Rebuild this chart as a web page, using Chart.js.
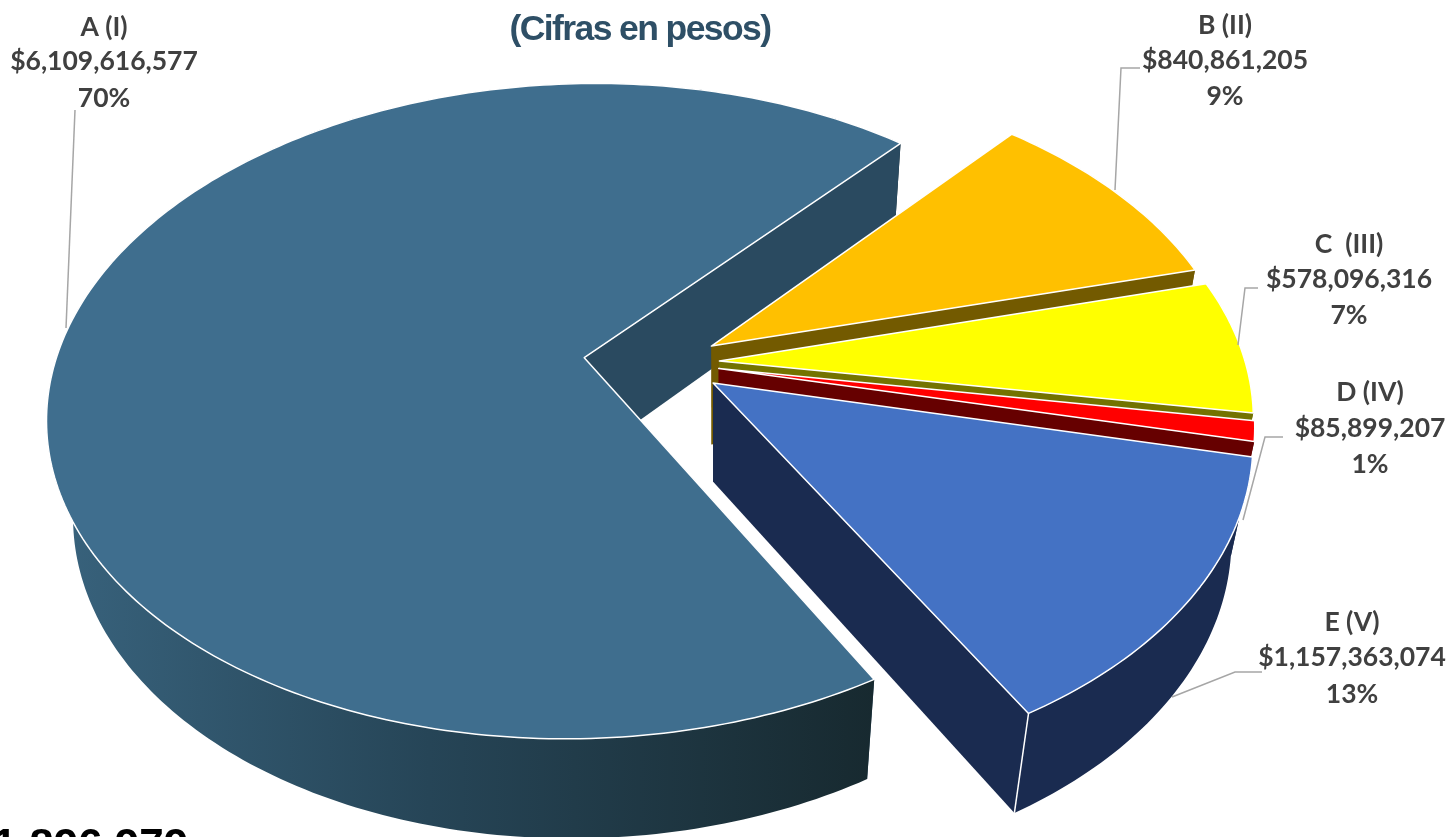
<!DOCTYPE html>
<html>
<head>
<meta charset="utf-8">
<title>Pie 3D</title>
<script src="https://cdn.jsdelivr.net/npm/chart.js@4/dist/chart.umd.min.js"></script>
<style>
  html, body { margin: 0; padding: 0; background: #fff; overflow: hidden; }
  #wrap { width: 1449px; height: 837px; position: relative; }
</style>
</head>
<body>
<div id="wrap"><canvas id="grafico" width="1449" height="837"></canvas></div>
<script>
const categorias = ['A (I)', 'B (II)', 'C  (III)', 'D (IV)', 'E (V)'];
const valores = [6109616577, 840861205, 578096316, 85899207, 1157363074];
const porcentajes = ['70%', '9%', '7%', '1%', '13%'];
const colores = ['#3f6e8e', '#ffc000', '#ffff00', '#ff0000', '#4472c4'];
const coloresLado = ['#2a4a60', '#735a00', '#737300', '#660000', '#1a2b50'];
const separacion = [61.6, 38, 38, 38, 41];
const titulo = '(Cifras en pesos)';
const totalTexto = '$1,896,979';

// where each label sits and the elbow of its leader line
const etiquetas = [
  { x: 104, y: [27, 61, 98], linea: [[75, 110], [66, 328]] },
  { x: 1225, y: [25, 60, 96], linea: [[1140, 68], [1121, 68], [1115, 190]] },
  { x: 1349, y: [244, 279, 315], linea: [[1258, 288], [1245, 288], [1238, 345]] },
  { x: 1370, y: [392, 428, 464], linea: [[1283, 437], [1265, 437], [1243, 520]] },
  { x: 1352, y: [622, 657, 694], linea: [[1262, 672], [1235, 672], [1172, 697]] }
];

// camera of the tilted disc: u,v on the disc (radius 1), z = 0 top face, 1 bottom face
const cam = { cx: 585, cy: 357, r: 526.5, rk: 318.7, p: 0.163, q: 0.04, h: 102.6, hx: 5.2, s: 0.004, sh: -0.03, t: -0.006 };
const centro = { u: 0.157, v: 0.019 };

function proyectar(u, v, z) {
  const w = 1 - cam.p * v + cam.s * u + cam.q * z;
  return [
    cam.cx + (cam.r * u + cam.sh * cam.rk * v + cam.hx * z) / w,
    cam.cy + (cam.rk * v + cam.t * cam.r * u + cam.h * z) / w
  ];
}

function trazar(ctx, pts) {
  ctx.beginPath();
  pts.forEach((p, i) => i ? ctx.lineTo(p[0], p[1]) : ctx.moveTo(p[0], p[1]));
}

function dibujarRebanada(ctx, arc, i) {
  const medio = (arc.startAngle + arc.endAngle) / 2;
  const off = arc.options.offset / arc.outerRadius;
  const au = centro.u + off * Math.cos(medio);
  const av = centro.v + off * Math.sin(medio);

  const pasos = Math.max(8, Math.ceil((arc.endAngle - arc.startAngle) * 60));
  const borde = z => {
    const pts = [];
    for (let k = 0; k <= pasos; k++) {
      const a = arc.startAngle + (arc.endAngle - arc.startAngle) * k / pasos;
      pts.push(proyectar(au + Math.cos(a), av + Math.sin(a), z));
    }
    return pts;
  };
  const arriba = borde(0);
  const abajo = borde(1);
  const apice0 = proyectar(au, av, 0);
  const apice1 = proyectar(au, av, 1);
  const lado = arc.options.borderColor;

  const pared = k => {
    ctx.fillStyle = lado;
    trazar(ctx, [apice0, arriba[k], abajo[k], apice1]);
    ctx.closePath();
    ctx.fill();
  };

  // the start wall faces away, so it goes under the rim
  pared(0);

  // outer rim, the big slice fades to the right
  ctx.fillStyle = lado;
  if (i === 0) {
    const g = ctx.createLinearGradient(60, 0, 880, 0);
    g.addColorStop(0, '#38627c');
    g.addColorStop(0.45, '#264557');
    g.addColorStop(1, '#17292f');
    ctx.fillStyle = g;
  }
  trazar(ctx, arriba.concat(abajo.slice().reverse()));
  ctx.closePath();
  ctx.fill();

  pared(pasos);

  // top face
  ctx.fillStyle = arc.options.backgroundColor;
  trazar(ctx, [apice0].concat(arriba));
  ctx.closePath();
  ctx.fill();
  ctx.strokeStyle = '#ffffff';
  ctx.lineWidth = 1.5;
  ctx.lineJoin = 'round';
  ctx.stroke();

  // front corner of the rim, only where the wall shows beside it
  if (i === 4) {
    trazar(ctx, [arriba[pasos], abajo[pasos]]);
    ctx.stroke();
  }
}

const pie3d = {
  id: 'pie3d',
  beforeDatasetDraw(chart) {
    const ctx = chart.ctx;
    ctx.save();
    chart.getDatasetMeta(0).data.forEach((arc, i) => dibujarRebanada(ctx, arc, i));
    ctx.restore();
    return false;
  },
  afterDraw(chart) {
    const ctx = chart.ctx;
    ctx.save();
    ctx.strokeStyle = '#a6a6a6';
    ctx.lineWidth = 1.5;
    etiquetas.forEach(e => {
      trazar(ctx, e.linea);
      ctx.stroke();
    });

    ctx.textAlign = 'center';
    ctx.textBaseline = 'middle';
    ctx.fillStyle = '#404040';
    ctx.font = 'bold 26.5px Lato';
    etiquetas.forEach((e, i) => {
      ctx.fillText(categorias[i], e.x, e.y[0]);
      ctx.fillText('$' + valores[i].toLocaleString('en-US'), e.x, e.y[1]);
      ctx.fillText(porcentajes[i], e.x, e.y[2]);
    });

    ctx.fillStyle = '#2e4f66';
    ctx.font = 'bold 35.5px "Liberation Sans"';
    ctx.letterSpacing = '-1.6px';
    ctx.textBaseline = 'alphabetic';
    ctx.fillText(titulo, 640, 40);

    ctx.fillStyle = '#000000';
    ctx.font = 'bold 44px "Liberation Sans"';
    ctx.letterSpacing = '0px';
    ctx.textAlign = 'left';
    ctx.fillText(totalTexto, -32, 860);
    ctx.restore();
  }
};

new Chart(document.getElementById('grafico'), {
  type: 'pie',
  data: {
    labels: categorias,
    datasets: [{
      data: valores,
      backgroundColor: colores,
      borderColor: coloresLado,
      offset: separacion
    }]
  },
  options: {
    responsive: false,
    animation: false,
    rotation: 150.7,
    plugins: { legend: { display: false }, tooltip: { enabled: false } }
  },
  plugins: [pie3d]
});
</script>
</body>
</html>
